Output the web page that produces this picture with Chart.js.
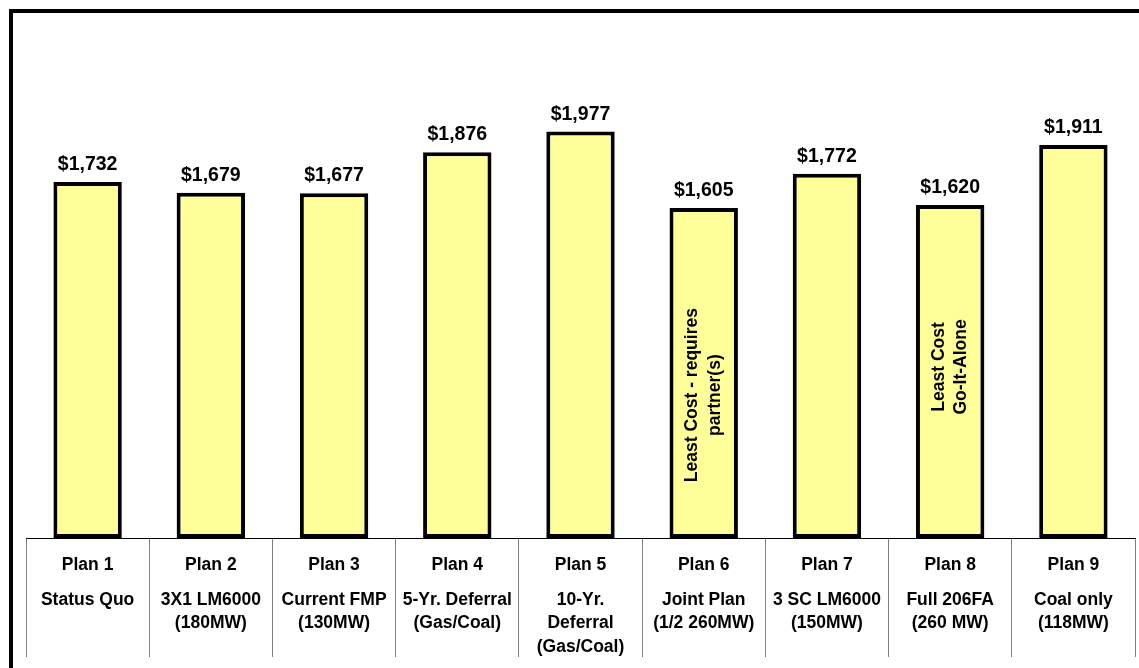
<!DOCTYPE html>
<html>
<head>
<meta charset="utf-8">
<script src="https://cdn.jsdelivr.net/npm/chart.js@4.4.1/dist/chart.umd.min.js"></script>
<style>
  html, body { margin: 0; padding: 0; background: #ffffff; }
  #wrap { position: relative; width: 1139px; height: 668px; }
  canvas { display: block; }
</style>
</head>
<body>
<div id="wrap"><canvas id="c" width="1139" height="668"></canvas></div>
<script>
// ---- data ----
const plans = ["Plan 1", "Plan 2", "Plan 3", "Plan 4", "Plan 5", "Plan 6", "Plan 7", "Plan 8", "Plan 9"];
const descriptions = [
  ["Status Quo"],
  ["3X1 LM6000", "(180MW)"],
  ["Current FMP", "(130MW)"],
  ["5-Yr. Deferral", "(Gas/Coal)"],
  ["10-Yr.", "Deferral", "(Gas/Coal)"],
  ["Joint Plan", "(1/2 260MW)"],
  ["3 SC LM6000", "(150MW)"],
  ["Full 206FA", "(260 MW)"],
  ["Coal only", "(118MW)"]
];
const costs = [1732, 1679, 1677, 1876, 1977, 1605, 1772, 1620, 1911];
const notes = [null, null, null, null, null, ["Least Cost - requires", "partner(s)"], null, ["Least Cost", "Go-It-Alone"], null];

const FONT = 'Arial, "Liberation Sans", Helvetica, sans-serif';

// value (in data units) at which each rotated note is centred along its bar
const noteCentre = {5: 695, 7: 832};

const framePlugin = {
  id: 'frame',
  afterDraw(chart) {
    const ctx = chart.ctx;
    ctx.save();
    ctx.fillStyle = '#000';
    ctx.fillRect(9, 9, 4, chart.height - 9);
    ctx.fillRect(9, 9, chart.width - 9, 4);
    ctx.restore();
  }
};

const labelPlugin = {
  id: 'valueLabels',
  afterDatasetsDraw(chart) {
    const ctx = chart.ctx;
    const meta = chart.getDatasetMeta(0);
    const xs = chart.scales.x, ys = chart.scales.y;
    ctx.save();
    ctx.fillStyle = '#000';
    ctx.font = 'bold 19.5px ' + FONT;
    ctx.textAlign = 'center';
    ctx.textBaseline = 'alphabetic';
    meta.data.forEach((bar, i) => {
      ctx.fillText('$' + costs[i].toLocaleString('en-US'), bar.x, bar.y - 12);
    });
    // rotated notes inside bars
    ctx.font = 'bold 17.5px ' + FONT;
    ctx.textBaseline = 'middle';
    notes.forEach((lines, i) => {
      if (!lines) return;
      const x = xs.getPixelForValue(i);
      const y = ys.getPixelForValue(noteCentre[i]);
      ctx.save();
      ctx.translate(x, y);
      ctx.rotate(-Math.PI / 2);
      const gap = 22.5;
      lines.forEach((t, k) => {
        ctx.fillText(t, 0, (k - (lines.length - 1) / 2) * gap);
      });
      ctx.restore();
    });
    ctx.restore();
  }
};

new Chart(document.getElementById('c'), {
  type: 'bar',
  data: {
    labels: plans,
    datasets: [{
      data: costs,
      backgroundColor: '#FFFF99',
      borderColor: '#000000',
      borderWidth: 4,
      borderSkipped: false,
      categoryPercentage: 1.0,
      barPercentage: 0.555
    }]
  },
  options: {
    responsive: false,
    animation: false,
    events: [],
    layout: { padding: { top: 24, left: 26, right: 4, bottom: 0 } },
    plugins: { legend: { display: false }, tooltip: { enabled: false } },
    scales: {
      y: { display: false, min: 0, max: 2500 },
      x: {
        offset: true,
        grid: {
          display: true,
          offset: true,
          drawOnChartArea: false,
          drawTicks: true,
          tickLength: 119,
          color: '#808080',
          lineWidth: 1
        },
        border: { display: true, color: '#000000', width: 1 },
        ticks: {
          autoSkip: false,
          maxRotation: 0,
          minRotation: 0,
          padding: -98,
          color: '#000000',
          font: { family: FONT, size: 17.5, weight: 'bold', lineHeight: '11.75px' },
          callback: function (value, index) {
            const out = [plans[index], '', ''];
            descriptions[index].forEach((d, k) => {
              if (k > 0) out.push('');
              out.push(d);
            });
            return out;
          }
        },
        afterFit(scale) { scale.height = 130; }
      }
    }
  },
  plugins: [framePlugin, labelPlugin]
});
</script>
</body>
</html>
